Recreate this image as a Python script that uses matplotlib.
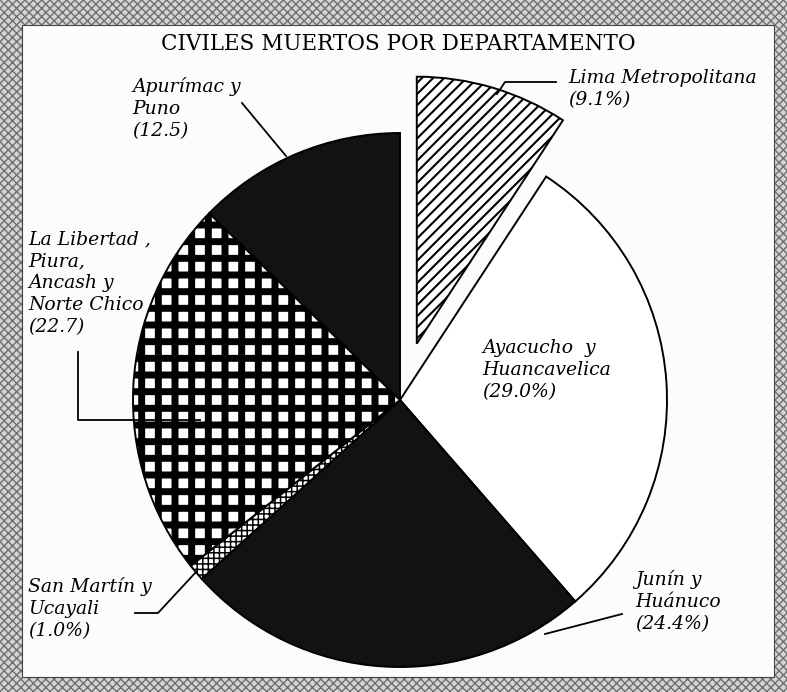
#civiles_muertos.py

import matplotlib
matplotlib.use('Agg')
import matplotlib.pyplot as plt
from matplotlib.patches import Rectangle

#slices, clockwise from 12 o'clock
labels = ['Lima Metropolitana\n(9.1%)',
          'Ayacucho  y\nHuancavelica\n(29.0%)',
          'Junín y\nHuánuco\n(24.4%)',
          'San Martín y\nUcayali\n(1.0%)',
          'La Libertad ,\nPiura,\nAncash y\nNorte Chico\n(22.7)',
          'Apurímac y\nPuno\n(12.5)']
values = [9.1, 29.0, 24.4, 1.0, 22.7, 12.5]
explode = [0.22, 0, 0, 0, 0, 0]
title = 'CIVILES MUERTOS POR DEPARTAMENTO'

W, H = 787, 692
R = 267
def Y(y):
    #image row -> data y
    return H - y

fig = plt.figure(figsize=(7.87, 6.92), dpi=100)
ax = fig.add_axes([0, 0, 1, 1])

#scanned frame
ax.add_patch(Rectangle((0, 0), W, H, facecolor='#d4d4d4', edgecolor='#707070',
                       hatch='xxxx', linewidth=0, zorder=0))
ax.add_patch(Rectangle((22, Y(677)), 752, 652, facecolor='#fcfcfc',
                       edgecolor='#444444', linewidth=0.8, zorder=1))

#explode in matplotlib is in data units, so scale by the radius
wedges, _ = ax.pie(values, explode=[e * R for e in explode], startangle=90,
                   counterclock=False, center=(400, Y(400)), radius=R,
                   wedgeprops=dict(edgecolor='black', linewidth=1.4, zorder=2))

styles = [('white', '///', 1.5),
          ('white', None, 1.0),
          ('#121212', None, 1.0),
          ('white', '+++', 1.1),
          ('white', '+', 5.0),
          ('#121212', None, 1.0)]
for w, (fc, hatch, hlw) in zip(wedges, styles):
    w.set_facecolor(fc)
    w.set_zorder(2)
    if hatch:
        w.set_hatch(hatch)
        if hasattr(w, 'set_hatch_linewidth'):
            w.set_hatch_linewidth(hlw)

ax.set_xlim(0, W)
ax.set_ylim(0, H)
ax.set_aspect('equal')
ax.axis('off')

ax.text(398, Y(44), title, ha='center', va='center', family='DejaVu Serif',
        fontsize=15.5, zorder=5)

lab_font = dict(family='DejaVu Serif', style='italic', fontsize=13.5,
                linespacing=1.28, zorder=5, va='top', ha='left')
label_pos = [(568, 69), (482, 339), (635, 570), (28, 577), (28, 230), (132, 77)]
for txt, (x, y) in zip(labels, label_pos):
    ax.text(x, Y(y), txt, **lab_font)

#leader lines
leaders = [[(497, 94), (505, 82), (556, 82)],
           [(622, 614), (545, 634)],
           [(135, 613), (158, 613), (196, 572)],
           [(78, 352), (78, 420), (200, 420)],
           [(242, 103), (286, 156)]]
for pts in leaders:
    ax.plot([p[0] for p in pts], [Y(p[1]) for p in pts], color='black',
            linewidth=1.3, zorder=4)

fig.savefig('out.png', dpi=100)
